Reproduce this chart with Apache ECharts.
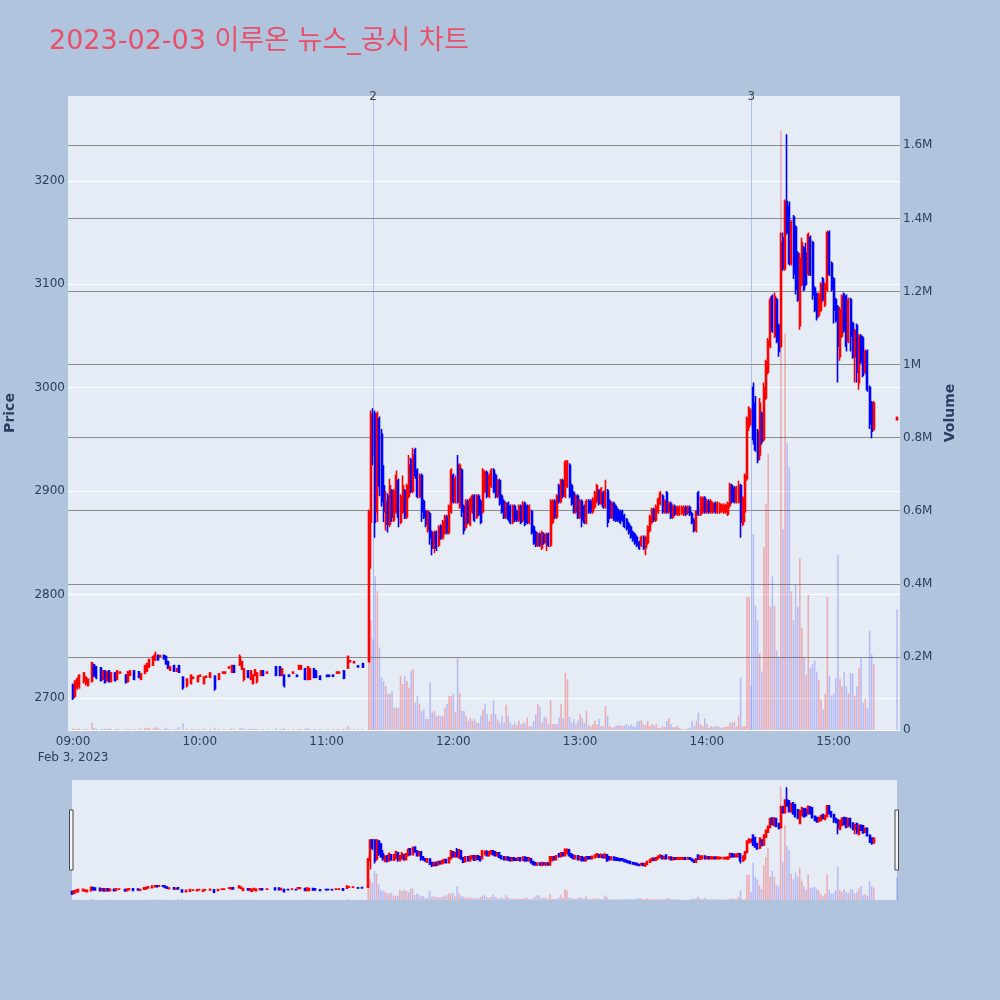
<!DOCTYPE html>
<html>
<head>
<meta charset="utf-8">
<script src="https://cdn.jsdelivr.net/npm/echarts@6/dist/echarts.min.js"></script>
<style>html,body{margin:0;padding:0;background:#b0c4de;}#c{width:1000px;height:1000px;}</style>
</head>
<body>
<div id="c"></div>
<script>
// ---- data (1-minute candles, 2023-02-03) ----
const times = [
'09:00','09:01','09:02','09:03','09:05','09:06','09:07','09:09','09:10','09:11',
'09:13','09:14','09:15','09:16','09:17','09:18','09:20','09:21','09:22','09:25',
'09:26','09:27','09:29','09:31','09:32','09:34','09:35','09:36','09:38','09:39',
'09:40','09:41','09:43','09:44','09:45','09:46','09:48','09:49','09:50','09:52',
'09:54','09:56','09:57','09:59','10:00','10:02','10:03','10:05','10:07','10:09',
'10:11','10:12','10:14','10:15','10:16','10:19','10:20','10:21','10:23','10:24',
'10:25','10:26','10:27','10:29','10:30','10:32','10:36','10:38','10:39','10:40',
'10:42','10:44','10:46','10:47','10:48','10:50','10:51','10:52','10:54','10:55',
'10:57','11:00','11:01','11:03','11:05','11:06','11:08','11:10','11:11','11:13',
'11:15','11:17',
'11:20','11:21','11:22','11:23','11:24','11:25','11:26','11:27','11:28','11:29',
'11:30','11:31','11:32','11:33','11:34','11:35','11:36','11:37','11:38','11:39',
'11:40','11:41','11:42','11:43','11:44','11:45','11:46','11:47','11:48','11:49',
'11:50','11:51','11:52','11:53','11:54','11:55','11:56','11:57','11:58','11:59',
'12:00','12:01','12:02','12:03','12:04','12:05','12:06','12:07','12:08','12:09',
'12:10','12:11','12:12','12:13','12:14','12:15','12:16','12:17','12:18','12:19',
'12:20','12:21','12:22','12:23','12:24','12:25','12:26','12:27','12:28','12:29',
'12:30','12:31','12:32','12:33','12:34','12:35','12:36','12:37','12:38','12:39',
'12:40','12:41','12:42','12:43','12:44','12:45','12:46','12:47','12:48','12:49',
'12:50','12:51','12:52','12:53','12:54','12:55','12:56','12:57','12:58','12:59',
'13:00','13:01','13:02','13:03','13:04','13:05','13:06','13:07','13:08','13:09',
'13:10','13:11','13:12','13:13','13:14','13:15','13:16','13:17','13:18','13:19',
'13:20','13:21','13:22','13:23','13:24','13:25','13:26','13:27','13:28','13:29',
'13:30','13:31','13:32','13:33','13:34','13:35','13:36','13:37','13:38','13:39',
'13:40','13:41','13:42','13:43','13:44','13:45','13:46','13:47','13:48','13:49',
'13:50','13:51','13:52','13:53','13:54','13:55','13:56','13:57','13:58','13:59',
'14:00','14:01','14:02','14:03','14:04','14:05','14:06','14:07','14:08','14:09',
'14:10','14:11','14:12','14:13','14:14','14:15','14:16','14:17','14:18','14:19',
'14:20','14:21','14:22','14:23','14:24','14:25','14:26','14:27','14:28','14:29',
'14:30','14:31','14:32','14:33','14:34','14:35','14:36','14:37','14:38','14:39',
'14:40','14:41','14:42','14:43','14:44','14:45','14:46','14:47','14:48','14:49',
'14:50','14:51','14:52','14:53','14:54','14:55','14:56','14:57','14:58','14:59',
'15:00','15:01','15:02','15:03','15:04','15:05','15:06','15:07','15:08','15:09',
'15:10','15:11','15:12','15:13','15:14','15:15','15:16','15:17','15:18','15:19',
'15:30'
];
const opens = [
2712,2702,2710,2711,2716,2714,2712,2716,2732,2730,
2729,2718,2726,2717,2726,2716,2724,2718,2724,2722,
2716,2722,2726,2725,2718,2724,2726,2730,2732,2737,
2741,2740,2741,2740,2735,2727,2731,2726,2731,2720,
2712,2714,2719,2716,2721,2714,2720,2720,2721,2718,
2724,2724,2729,2725,2731,2732,2728,2718,2726,2718,
2714,2722,2716,2722,2726,2724,2730,2730,2722,2722,
2722,2724,2722,2728,2728,2728,2718,2718,2728,2726,
2721,2722,2722,2722,2724,2724,2726,2729,2735,2734,
2731,2733,
2735,2870,2975,2975,2880,2970,2955,2905,2868,2895,
2868,2900,2872,2880,2910,2870,2880,2900,2875,2895,
2930,2900,2940,2920,2895,2915,2890,2880,2862,2878,
2860,2845,2860,2848,2866,2855,2860,2875,2860,2880,
2915,2890,2925,2885,2920,2885,2865,2890,2868,2880,
2895,2875,2895,2890,2880,2900,2918,2895,2905,2920,
2915,2895,2910,2895,2890,2875,2888,2885,2870,2885,
2880,2872,2885,2872,2888,2885,2870,2880,2865,2860,
2848,2858,2845,2858,2850,2858,2848,2870,2890,2875,
2905,2890,2910,2895,2905,2925,2905,2898,2880,2895,
2875,2890,2885,2870,2890,2890,2880,2885,2890,2900,
2888,2898,2885,2900,2890,2875,2888,2885,2882,2880,
2880,2876,2872,2868,2865,2860,2858,2855,2850,2848,
2855,2845,2850,2862,2870,2882,2872,2880,2888,2895,
2880,2898,2880,2888,2875,2885,2878,2878,2879,2878,
2884,2879,2884,2878,2872,2862,2898,2878,2880,2893,
2880,2890,2880,2880,2888,2880,2880,2881,2880,2880,
2878,2886,2905,2903,2890,2890,2905,2868,2880,2912,
2962,2965,3000,2985,2958,2935,2975,2950,2990,3015,
3040,3088,3050,3085,3060,3040,3145,3115,3180,3175,
3120,3165,3155,3130,3060,3100,3135,3130,3110,3145,
3140,3096,3090,3070,3075,3105,3080,3095,3150,3120,
3105,3085,3078,3030,3050,3090,3088,3045,3085,3062,
3030,3060,3005,3050,3048,3015,3035,3000,2985,2960,
2969
];
const closes = [
2700,2716,2718,2722,2724,2720,2718,2734,2722,2720,
2717,2726,2715,2725,2716,2724,2717,2726,2725,2715,
2725,2726,2718,2720,2723,2731,2733,2737,2740,2742,
2737,2741,2738,2733,2729,2730,2726,2728,2725,2710,
2718,2722,2720,2721,2722,2720,2721,2724,2709,2723,
2725,2725,2730,2731,2725,2740,2735,2728,2720,2726,
2722,2727,2724,2726,2722,2725,2722,2722,2728,2712,
2721,2725,2721,2731,2731,2718,2730,2728,2720,2720,
2718,2721,2721,2721,2725,2725,2719,2740,2736,2735,
2730,2730,
2880,2975,2935,2870,2975,2905,2890,2880,2890,2868,
2905,2875,2900,2915,2875,2895,2905,2875,2905,2925,
2900,2935,2915,2895,2915,2880,2875,2868,2880,2855,
2845,2860,2845,2865,2855,2870,2875,2860,2885,2920,
2890,2912,2890,2925,2880,2862,2890,2870,2892,2895,
2872,2895,2878,2870,2920,2918,2895,2915,2920,2900,
2895,2910,2888,2880,2875,2888,2873,2870,2885,2872,
2872,2885,2870,2888,2868,2870,2885,2860,2850,2848,
2858,2848,2860,2850,2858,2848,2890,2890,2875,2895,
2890,2910,2895,2928,2928,2895,2888,2880,2895,2875,
2890,2872,2870,2890,2880,2880,2892,2898,2905,2888,
2902,2885,2900,2870,2875,2888,2873,2872,2872,2870,
2872,2866,2864,2860,2856,2853,2850,2848,2845,2855,
2845,2855,2865,2875,2882,2872,2885,2892,2898,2880,
2890,2880,2888,2875,2885,2878,2884,2884,2884,2884,
2878,2884,2878,2870,2862,2880,2878,2893,2893,2880,
2890,2880,2890,2888,2880,2888,2887,2886,2886,2886,
2888,2906,2890,2890,2903,2905,2870,2893,2915,2970,
2980,2978,2950,2940,2930,2985,2948,3000,3025,3045,
3085,3055,3088,3045,3035,3140,3115,3180,3150,3120,
3160,3110,3095,3085,3125,3140,3095,3100,3148,3110,
3090,3075,3068,3090,3100,3085,3100,3150,3110,3095,
3075,3065,3040,3075,3088,3055,3040,3085,3050,3030,
3055,3015,3050,3025,3012,3035,2998,2965,2958,2985,
2971
];
const lows = [
2698,2700,2708,2709,2714,2712,2711,2715,2720,2718,
2716,2717,2714,2716,2715,2715,2716,2717,2724,2714,
2715,2721,2717,2719,2717,2723,2725,2729,2731,2736,
2736,2739,2737,2732,2728,2726,2725,2725,2724,2708,
2710,2713,2719,2715,2721,2713,2720,2719,2707,2717,
2724,2724,2729,2724,2724,2731,2727,2716,2719,2717,
2713,2721,2714,2721,2721,2724,2721,2721,2721,2710,
2720,2724,2720,2727,2727,2717,2717,2717,2719,2719,
2717,2720,2720,2721,2724,2724,2718,2728,2735,2734,
2730,2729,
2735,2825,2925,2855,2870,2895,2885,2870,2862,2860,
2865,2870,2870,2878,2865,2868,2878,2873,2873,2893,
2898,2898,2912,2893,2893,2870,2873,2865,2860,2848,
2838,2840,2842,2846,2853,2853,2858,2858,2858,2878,
2888,2888,2888,2883,2875,2858,2863,2868,2866,2878,
2870,2873,2876,2868,2878,2898,2893,2893,2903,2898,
2893,2893,2886,2878,2873,2873,2871,2868,2868,2870,
2870,2870,2868,2870,2866,2868,2868,2858,2848,2846,
2846,2846,2843,2848,2842,2846,2846,2868,2873,2873,
2888,2888,2893,2893,2903,2893,2886,2878,2878,2873,
2873,2865,2868,2868,2878,2878,2878,2883,2888,2886,
2886,2883,2883,2865,2873,2873,2871,2870,2870,2868,
2870,2864,2862,2858,2854,2851,2848,2846,2843,2846,
2843,2838,2848,2860,2868,2870,2870,2878,2886,2878,
2878,2878,2878,2873,2873,2876,2876,2876,2877,2876,
2876,2877,2876,2868,2860,2860,2876,2876,2878,2878,
2878,2878,2878,2878,2878,2878,2878,2879,2878,2878,
2876,2884,2888,2888,2888,2888,2855,2866,2870,2910,
2958,2963,2945,2938,2927,2930,2945,2948,2988,3013,
3038,3053,3048,3043,3030,3038,3113,3113,3148,3118,
3118,3105,3090,3083,3056,3098,3093,3098,3108,3108,
3085,3073,3065,3068,3073,3083,3078,3093,3108,3093,
3062,3063,3005,3026,3048,3053,3035,3043,3035,3028,
3005,3005,2998,3023,3010,3013,2996,2960,2951,2958,
2969
];
const highs = [
2714,2717,2720,2723,2725,2721,2719,2735,2733,2731,
2730,2727,2727,2726,2727,2725,2725,2727,2725,2723,
2726,2727,2727,2726,2724,2732,2734,2738,2741,2745,
2742,2741,2742,2741,2736,2731,2732,2729,2732,2721,
2719,2723,2720,2722,2722,2721,2721,2725,2722,2724,
2725,2725,2730,2732,2732,2742,2736,2729,2727,2727,
2723,2728,2725,2727,2727,2725,2731,2731,2729,2723,
2723,2725,2722,2732,2732,2729,2731,2729,2729,2727,
2722,2722,2722,2722,2725,2725,2727,2741,2736,2735,
2731,2734,
2882,2978,2980,2978,2977,2972,2960,2925,2900,2898,
2912,2902,2902,2920,2912,2897,2915,2902,2907,2935,
2932,2942,2942,2922,2917,2917,2892,2882,2882,2880,
2862,2862,2862,2867,2868,2872,2877,2877,2887,2922,
2917,2915,2935,2927,2922,2887,2892,2892,2894,2897,
2897,2897,2897,2892,2922,2920,2920,2917,2922,2922,
2917,2912,2912,2897,2892,2890,2890,2887,2887,2887,
2882,2887,2887,2890,2890,2887,2887,2882,2867,2862,
2860,2860,2862,2860,2860,2860,2892,2892,2892,2897,
2907,2912,2912,2930,2930,2927,2907,2900,2897,2897,
2892,2892,2887,2892,2892,2892,2894,2900,2907,2902,
2904,2900,2911,2902,2892,2890,2890,2887,2884,2882,
2882,2878,2874,2870,2867,2862,2860,2857,2852,2857,
2857,2857,2867,2877,2884,2884,2887,2894,2900,2897,
2892,2900,2890,2890,2887,2887,2886,2886,2886,2886,
2886,2886,2886,2880,2874,2882,2900,2895,2895,2895,
2892,2892,2892,2890,2890,2890,2889,2888,2888,2888,
2890,2908,2907,2905,2905,2910,2907,2895,2917,2972,
2982,2980,3005,2992,2960,2990,2977,3005,3027,3048,
3088,3090,3092,3087,3062,3150,3150,3182,3245,3180,
3162,3167,3157,3132,3130,3145,3137,3140,3150,3147,
3142,3098,3092,3092,3102,3107,3102,3152,3152,3122,
3107,3087,3080,3078,3090,3092,3090,3087,3087,3064,
3057,3062,3052,3052,3050,3037,3037,3002,2987,2987,
2972
];
const volumes = [
4000,3000,2000,4000,3000,3000,2000,19000,6000,4000,
3000,3000,4000,3000,5000,3000,2000,4000,2000,3000,
2000,2000,3000,2000,4000,4000,5000,6000,4000,8000,
5000,2000,3000,6000,3000,2000,3000,2000,8000,18000,
4000,3000,2000,3000,2000,4000,2000,3000,6000,3000,
2000,2000,2000,4000,3000,6000,5000,4000,3000,3000,
4000,2000,3000,2000,3000,2000,4000,3000,2000,5000,
2000,2000,2000,3000,2000,4000,5000,3000,3000,2000,
3000,2000,2000,2000,2000,3000,4000,10000,3000,2000,
2000,3000,
460000,300000,250000,420000,380000,226000,144000,134000,121000,99000,
99000,107000,61000,61000,61000,148000,126000,148000,134000,116000,
162000,167000,75000,93000,71000,52000,57000,30000,30000,130000,
48000,52000,38000,40000,38000,38000,61000,71000,93000,93000,
100000,50000,198000,102000,52000,52000,39000,25000,34000,25000,
30000,20000,20000,39000,57000,72000,43000,25000,43000,80000,
43000,29000,20000,39000,20000,69000,39000,20000,13000,20000,
13000,25000,15000,20000,20000,34000,11000,11000,25000,43000,
71000,62000,20000,36000,34000,16000,82000,16000,16000,16000,
34000,71000,32000,157000,139000,36000,20000,29000,15000,25000,
43000,32000,20000,52000,13000,11000,16000,25000,16000,30000,
11000,11000,66000,38000,11000,6000,8000,11000,13000,13000,
11000,13000,17000,11000,16000,11000,8000,23000,25000,27000,
16000,13000,25000,11000,17000,11000,16000,6000,6000,11000,
8000,25000,32000,16000,8000,8000,11000,6000,2000,2000,
2000,4000,6000,25000,11000,25000,47000,16000,11000,32000,
17000,6000,11000,8000,11000,11000,8000,6000,8000,8000,
10000,20000,20000,23000,10000,40000,143000,10000,10000,364000,
364000,120000,536000,340000,300000,210000,160000,500000,620000,757000,
337000,420000,340000,218000,200000,1640000,550000,1085000,785000,720000,
380000,300000,397000,337000,470000,280000,200000,150000,370000,170000,
180000,190000,160000,137000,83000,56000,99000,364000,148000,94000,
100000,142000,478000,140000,120000,159000,120000,100000,155000,155000,
94000,120000,170000,197000,75000,87000,60000,272000,207000,180000,
330000
];
const hourTicks = [0, 60, 120, 180, 240, 300, 360];
const priceTicks = [2700, 2800, 2900, 3000, 3100, 3200];
const volumeTicks = [0, 200000, 400000, 600000, 800000, 1000000, 1200000, 1400000, 1600000];
const newsMarks = [{ time: '11:22', name: '2' }, { time: '14:21', name: '3' }];

// ---- build ----
const toMin = s => { const p = s.split(':').map(Number); return p[0] * 60 + p[1] - 540; };
const xs = times.map(toMin);
const candles = xs.map((x, i) => [x, opens[i], closes[i], lows[i], highs[i]]);
const upVol = 'rgba(255,0,0,0.27)', dnVol = 'rgba(0,0,255,0.2)';
const vols = xs.map((x, i) => ({ value: [x, volumes[i]], itemStyle: { color: (i > 0 ? closes[i] >= closes[i - 1] : true) ? upVol : dnVol } }));
const pad = n => (n < 10 ? '0' : '') + n;
const fmtTime = v => { const m = Math.round(v) + 540; return pad(Math.floor(m / 60)) + ':' + pad(m % 60); };
const FONT = "'DejaVu Sans', 'Noto Sans CJK KR', sans-serif";
const TXT = '#2a3f5f';
const candleStyle = { color: '#ff0000', color0: '#0000ff', borderColor: '#ff0000', borderColor0: '#0000ff', borderColorDoji: '#ff0000', borderWidth: 1.6 };

const chart = echarts.init(document.getElementById('c'), null, { renderer: 'canvas' });
chart.setOption({
  animation: false,
  backgroundColor: '#b0c4de',
  textStyle: { fontFamily: FONT },
  title: {
    text: '2023-02-03 이루온 뉴스_공시 차트', left: 49, top: 28, padding: 0,
    textStyle: { color: '#e8506a', fontSize: 27, fontWeight: 'normal', fontFamily: FONT }
  },
  grid: [
    { left: 68, right: 100, top: 96, bottom: 270, show: true, backgroundColor: '#e5ecf6', borderWidth: 0, containLabel: false, outerBoundsMode: 'none' },
    { left: 72, right: 103, top: 780, height: 120, show: true, backgroundColor: '#e5ecf6', borderWidth: 0, containLabel: false, outerBoundsMode: 'none' }
  ],
  xAxis: [
    {
      type: 'value', gridIndex: 0, min: -2.4, max: 391.4,
      axisLine: { show: false },
      axisTick: { show: false, customValues: hourTicks },
      splitLine: { show: false },
      axisLabel: {
        customValues: hourTicks, margin: 4, color: TXT, fontSize: 12, fontFamily: FONT, lineHeight: 16,
        formatter: v => v === 0 ? fmtTime(v) + '\nFeb 3, 2023' : fmtTime(v)
      }
    },
    { type: 'value', gridIndex: 1, min: 0, max: 390, show: false }
  ],
  yAxis: [
    {
      type: 'value', gridIndex: 0, position: 'left', min: 2669, max: 3282,
      name: 'Price', nameLocation: 'middle', nameRotate: 90, nameGap: 51,
      nameTextStyle: { color: TXT, fontSize: 14, fontWeight: 'bold', fontFamily: FONT },
      axisLine: { show: false },
      axisTick: { show: false, customValues: priceTicks },
      axisLabel: { customValues: priceTicks, color: TXT, fontSize: 12, margin: 3, fontFamily: FONT, formatter: v => String(v) },
      splitLine: { show: true, lineStyle: { color: '#ffffff', width: 1 } }
    },
    {
      type: 'value', gridIndex: 0, position: 'right', min: 0, max: 1735000,
      name: 'Volume', nameLocation: 'middle', nameRotate: 90, nameGap: 40,
      nameTextStyle: { color: TXT, fontSize: 14, fontWeight: 'bold', fontFamily: FONT },
      axisLine: { show: false },
      axisTick: { show: false, customValues: volumeTicks },
      axisLabel: { customValues: volumeTicks, color: TXT, fontSize: 12, margin: 3, fontFamily: FONT,
        formatter: v => v === 0 ? '0' : (v / 1e6) + 'M' },
      splitLine: { show: true, lineStyle: { color: ['#ffffff', '#8c8c8c', '#8c8c8c', '#8c8c8c', '#8c8c8c', '#8c8c8c', '#8c8c8c', '#8c8c8c', '#8c8c8c'], width: 1 } }
    },
    { type: 'value', gridIndex: 1, min: 2669, max: 3282, show: false },
    { type: 'value', gridIndex: 1, min: 0, max: 1735000, show: false }
  ],
  series: [
    { type: 'bar', xAxisIndex: 0, yAxisIndex: 1, barWidth: 1.6, data: vols, silent: true },
    {
      type: 'candlestick', xAxisIndex: 0, yAxisIndex: 0, barWidth: 1.5, data: candles,
      encode: { x: 0, y: [1, 2, 3, 4] }, itemStyle: candleStyle, silent: true,
      markLine: {
        symbol: 'none', silent: true, animation: false,
        lineStyle: { color: 'rgba(120,140,255,0.5)', width: 1, type: 'solid' },
        label: { show: true, position: 'end', formatter: '{b}', color: '#444', fontSize: 12, distance: -7, fontFamily: FONT },
        data: newsMarks.map(m => ({ xAxis: toMin(m.time), name: m.name }))
      }
    },
    { type: 'bar', xAxisIndex: 1, yAxisIndex: 3, barWidth: 1.6, data: vols, silent: true },
    {
      type: 'candlestick', xAxisIndex: 1, yAxisIndex: 2, barWidth: 1.5, data: candles,
      encode: { x: 0, y: [1, 2, 3, 4] }, itemStyle: candleStyle, silent: true
    }
  ],
  graphic: [
    { type: 'rect', shape: { x: 69.5, y: 810, width: 3.5, height: 60 }, style: { fill: '#f4f4f4', stroke: '#444', lineWidth: 1 }, z: 100 },
    { type: 'rect', shape: { x: 895, y: 810, width: 3.5, height: 60 }, style: { fill: '#f4f4f4', stroke: '#444', lineWidth: 1 }, z: 100 }
  ]
});
</script>
</body>
</html>
